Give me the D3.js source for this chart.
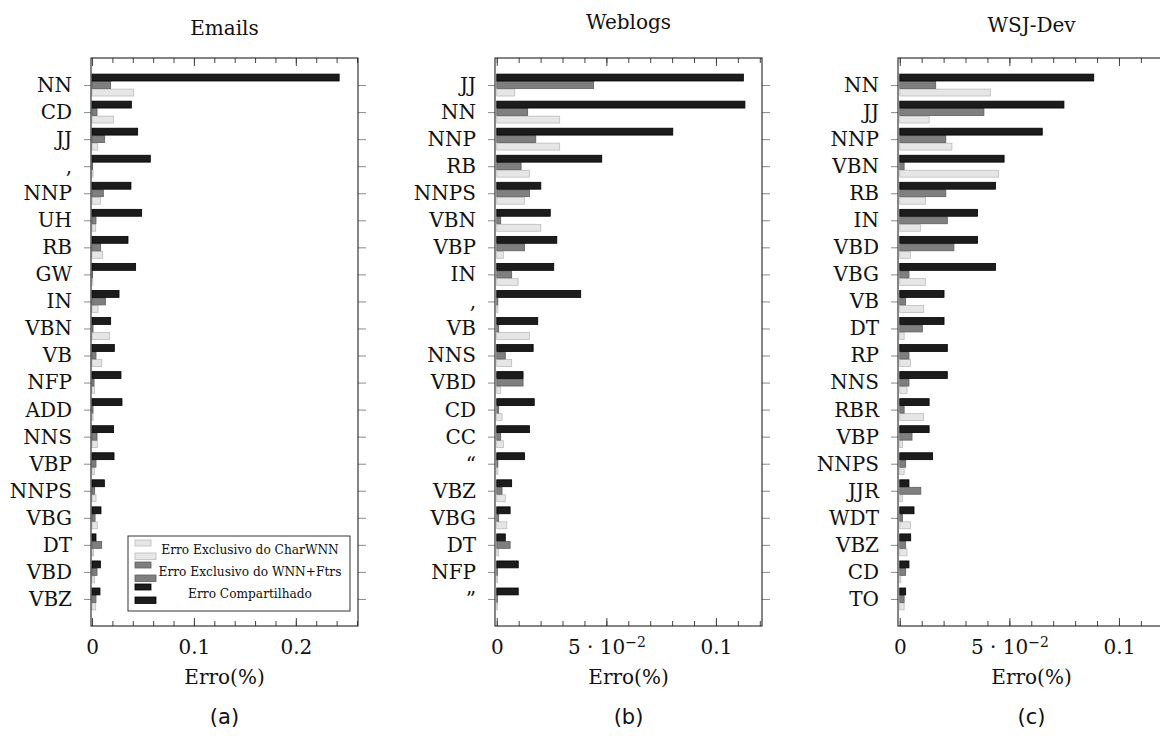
<!DOCTYPE html>
<html><head><meta charset="utf-8">
<script src="https://cdn.jsdelivr.net/npm/d3@7"></script>
<style>body{margin:0;background:#fff} svg{display:block}</style>
</head><body><svg id="c" width="1160" height="736"></svg>
<script>
// ---------------- data ----------------
const titles = ["Emails", "Weblogs", "WSJ-Dev"];
const captions = ["(a)", "(b)", "(c)"];
const xLabel = "Erro(%)";
const seriesNames = ["Erro Exclusivo do CharWNN", "Erro Exclusivo do WNN+Ftrs", "Erro Compartilhado"];

const catsA   = ["NN","CD","JJ",",","NNP","UH","RB","GW","IN","VBN","VB","NFP","ADD","NNS","VBP","NNPS","VBG","DT","VBD","VBZ"];
const sharedA = [0.2425,0.0386,0.0448,0.0572,0.0382,0.0487,0.0353,0.0428,0.0265,0.0183,0.0219,0.0284,0.0294,0.0212,0.0216,0.0121,0.0088,0.0039,0.0082,0.0078];
const wnnA    = [0.0183,0.0049,0.0124,0.0003,0.0111,0.0039,0.0085,0.0003,0.0131,0.0010,0.0039,0.0020,0.0010,0.0049,0.0039,0.0026,0.0030,0.0095,0.0049,0.0039];
const charA   = [0.0409,0.0212,0.0056,0.0010,0.0082,0.0036,0.0105,0.0008,0.0059,0.0173,0.0095,0.0026,0.0010,0.0052,0.0023,0.0039,0.0052,0.0016,0.0023,0.0036];

const catsB   = ["JJ","NN","NNP","RB","NNPS","VBN","VBP","IN",",","VB","NNS","VBD","CD","CC","\u201C","VBZ","VBG","DT","NFP","\u201D"];
const sharedB = [0.1125,0.1132,0.0803,0.0479,0.0201,0.0244,0.0274,0.0260,0.0383,0.0187,0.0166,0.0120,0.0171,0.0149,0.0127,0.0068,0.0061,0.0039,0.0098,0.0098];
const wnnB    = [0.0442,0.0141,0.0178,0.0111,0.0149,0.0018,0.0127,0.0068,0.0005,0.0009,0.0039,0.0120,0.0009,0.0018,0.0005,0.0024,0.0009,0.0061,0.0003,0.0003];
const charB   = [0.0082,0.0287,0.0287,0.0149,0.0126,0.0201,0.0030,0.0097,0.0005,0.0149,0.0068,0.0018,0.0024,0.0030,0.0005,0.0039,0.0046,0.0009,0.0003,0.0003];

const catsC   = ["NN","JJ","NNP","VBN","RB","IN","VBD","VBG","VB","DT","RP","NNS","RBR","VBP","NNPS","JJR","WDT","VBZ","CD","TO"];
const sharedC = [0.0885,0.0749,0.0650,0.0476,0.0437,0.0355,0.0355,0.0437,0.0202,0.0202,0.0217,0.0217,0.0134,0.0134,0.0150,0.0042,0.0065,0.0050,0.0042,0.0027];
const wnnC    = [0.0164,0.0384,0.0210,0.0020,0.0210,0.0217,0.0247,0.0042,0.0027,0.0103,0.0042,0.0042,0.0020,0.0056,0.0027,0.0096,0.0012,0.0027,0.0027,0.0020];
const charC   = [0.0413,0.0134,0.0238,0.0451,0.0117,0.0094,0.0049,0.0117,0.0109,0.0020,0.0049,0.0033,0.0109,0.0012,0.0020,0.0012,0.0049,0.0033,0.0005,0.0020];

const xDomains   = [[-0.001, 0.261], [-0.0008, 0.121], [-0.0008, 0.121]];
const majorTicks = [[0, 0.1, 0.2], [0, 0.05, 0.1], [0, 0.05, 0.1]];
const tickLabels = [["0", "0.1", "0.2"], ["0", "5 \u00B7 10^\u22122", "0.1"], ["0", "5 \u00B7 10^\u22122", "0.1"]];
const minorSteps = [0.02, 0.01, 0.01];

// ---------------- layout / style ----------------
const panels = [
  {cats: catsA, s: sharedA, w: wnnA, c: charA, left: 91,  titleY: 35},
  {cats: catsB, s: sharedB, w: wnnB, c: charB, left: 495, titleY: 29},
  {cats: catsC, s: sharedC, w: wnnC, c: charC, left: 898, titleY: 32}
];
const plotW = 267, plotTop = 58, plotBottom = 626;
const serif = "'DejaVu Serif', serif";
const colors = {c: {fill: "#e6e6e6", stroke: "#bcbcbc"}, w: {fill: "#7f7f7f", stroke: "#5e5e5e"}, s: {fill: "#1c1c1c", stroke: "#000"}};

const svg = d3.select("#c");

panels.forEach((p, i) => {
  const x = d3.scaleLinear().domain(xDomains[i]).range([p.left, p.left + plotW]);
  const y = d3.scalePoint().domain(p.cats).range([plotTop, plotBottom]).padding(1);
  const sub = d3.scaleBand().domain(["s", "w", "c"]).range([-11.25, 11.25]);
  const g = svg.append("g");

  // bars
  ["c", "w", "s"].forEach(key => {
    g.selectAll(null).data(p.cats.map((cat, j) => ({cat, v: p[key][j]}))).join("rect")
      .attr("x", x(0))
      .attr("y", d => y(d.cat) + sub(key) + 0.3)
      .attr("width", d => Math.max(0.6, x(d.v) - x(0)))
      .attr("height", sub.bandwidth() - 0.6)
      .attr("fill", colors[key].fill)
      .attr("stroke", colors[key].stroke)
      .attr("stroke-width", 0.8);
  });

  // minor + major x ticks (inward) on bottom and top
  const minor = d3.range(0, xDomains[i][1] + 1e-9, minorSteps[i]);
  const tickCol = "#444";
  [[minor, 5], [majorTicks[i], 8]].forEach(([vals, len]) => {
    g.append("g").attr("transform", `translate(0,${plotBottom})`)
      .call(d3.axisBottom(x).tickValues(vals).tickSize(-len).tickFormat(""))
      .call(a => a.select(".domain").remove())
      .selectAll("line").attr("stroke", tickCol);
    g.append("g").attr("transform", `translate(0,${plotTop})`)
      .call(d3.axisTop(x).tickValues(vals).tickSize(-len).tickFormat(""))
      .call(a => a.select(".domain").remove())
      .selectAll("line").attr("stroke", tickCol);
  });

  // x tick labels
  const lab = g.append("g").attr("transform", `translate(0,${plotBottom})`)
    .call(d3.axisBottom(x).tickValues(majorTicks[i]).tickSize(0).tickPadding(14).tickFormat(() => ""));
  lab.select(".domain").remove();
  lab.selectAll(".tick text").each(function(d, k) {
    const t = d3.select(this);
    const parts = tickLabels[i][k].split("^");
    t.attr("font-family", serif).attr("font-size", 20).attr("fill", "#111").attr("dy", "0.71em");
    t.append("tspan").text(parts[0]);
    if (parts[1]) t.append("tspan").attr("dy", "-0.5em").attr("font-size", 14).text(parts[1]);
  });

  // y axis left and right
  const ya = g.append("g").attr("transform", `translate(${p.left},0)`)
    .call(d3.axisLeft(y).tickSize(7).tickPadding(12));
  ya.select(".domain").remove();
  ya.selectAll("line").attr("stroke", "#8a8a8a");
  ya.selectAll("text").attr("font-family", serif).attr("font-size", 20).attr("fill", "#111");
  const yr = g.append("g").attr("transform", `translate(${p.left + plotW},0)`)
    .call(d3.axisRight(y).tickSize(8).tickFormat(""));
  yr.select(".domain").remove();
  yr.selectAll("line").attr("stroke", "#8a8a8a");

  // frame
  g.append("rect").attr("x", p.left).attr("y", plotTop).attr("width", plotW).attr("height", plotBottom - plotTop)
    .attr("fill", "none").attr("stroke", "#222").attr("stroke-width", 1.1);

  // title, x label, caption
  const cx = p.left + plotW / 2;
  g.append("text").attr("x", cx).attr("y", p.titleY).attr("text-anchor", "middle")
    .attr("font-family", serif).attr("font-size", 20).attr("fill", "#111").text(titles[i]);
  g.append("text").attr("x", cx).attr("y", 684).attr("text-anchor", "middle")
    .attr("font-family", serif).attr("font-size", 20).attr("fill", "#111").text(xLabel);
  g.append("text").attr("x", cx).attr("y", 724).attr("text-anchor", "middle")
    .attr("font-family", "'DejaVu Sans', sans-serif").attr("font-size", 21).attr("fill", "#111").text(captions[i]);

  // legend in first panel
  if (i === 0) {
    const lg = g.append("g");
    lg.append("rect").attr("x", 128).attr("y", 536).attr("width", 222).attr("height", 75)
      .attr("fill", "#fff").attr("stroke", "#333").attr("stroke-width", 1);
    ["c", "w", "s"].forEach((key, k) => {
      const yy = 540 + k * 22;
      lg.append("rect").attr("x", 135).attr("y", yy).attr("width", 16).attr("height", 6)
        .attr("fill", colors[key].fill).attr("stroke", colors[key].stroke).attr("stroke-width", 0.8);
      lg.append("rect").attr("x", 135).attr("y", yy + 13).attr("width", 21).attr("height", 6.5)
        .attr("fill", colors[key].fill).attr("stroke", colors[key].stroke).attr("stroke-width", 0.8);
      lg.append("text").attr("x", 250).attr("y", yy + 14).attr("text-anchor", "middle")
        .attr("font-family", serif).attr("font-size", 12.2).attr("fill", "#111").text(seriesNames[k]);
    });
  }
});
</script></body></html>
